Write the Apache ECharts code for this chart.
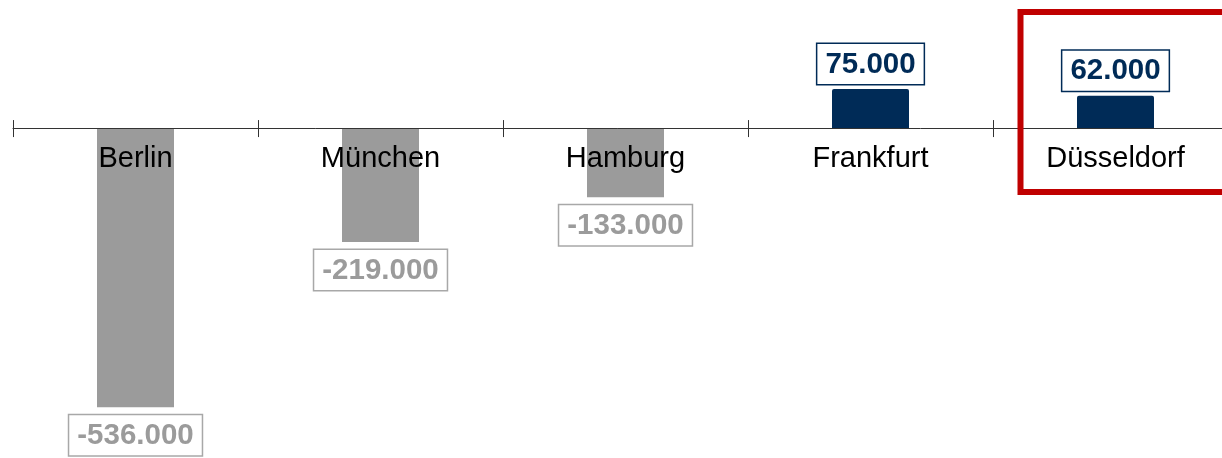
<!DOCTYPE html>
<html>
<head>
<meta charset="utf-8">
<script src="https://cdn.jsdelivr.net/npm/echarts@6/dist/echarts.min.js"></script>
<style>html,body{margin:0;padding:0;background:#fff}#c{width:1222px;height:458px}</style>
</head>
<body>
<div id="c"></div>
<script>
const categories = ['Berlin', 'München', 'Hamburg', 'Frankfurt', 'Düsseldorf'];
const values = [-536000, -219000, -133000, 75000, 62000];
const highlighted = 'Düsseldorf';

const NAVY = '#002b57';
const GREY = '#9b9b9b';
const FONT = '"Liberation Sans", Arial, sans-serif';

function fmt(v) {
  return v.toLocaleString('de-DE');
}

const Y_MIN = -600000, Y_MAX = 100000;
const GRID_TOP = 76, GRID_H = 364.5;
const zeroY = GRID_TOP + GRID_H * Y_MAX / (Y_MAX - Y_MIN);

const chart = echarts.init(document.getElementById('c'), null, { renderer: 'canvas' });

const data = values.map(v => {
  const pos = v >= 0;
  const col = pos ? NAVY : GREY;
  return {
    value: v,
    itemStyle: { color: col, borderRadius: pos ? [2, 2, 0, 0] : 0 },
    label: {
      show: true,
      position: pos ? 'top' : 'bottom',
      distance: pos ? 5 : 8,
      formatter: p => fmt(p.value),
      color: col,
      fontFamily: FONT,
      fontWeight: 'bold',
      fontSize: 29.5,
      lineHeight: 31,
      padding: [5, 8, 4, 8],
      borderColor: pos ? NAVY : '#a8a8a8',
      borderWidth: 1.5,
      backgroundColor: '#fff'
    }
  };
});

const option = {
  animation: false,
  grid: [
    { left: 13, width: 1225, top: GRID_TOP, height: GRID_H, containLabel: false, outerBoundsMode: 'none' },
    { left: 13, width: 1225, top: 0, height: zeroY, containLabel: false, outerBoundsMode: 'none' }
  ],
  xAxis: [
    {
      type: 'category',
      gridIndex: 0,
      data: categories,
      z: 10,
      boundaryGap: true,
      axisLine: { onZero: true, lineStyle: { color: '#333', width: 1 } },
      axisTick: { show: true, inside: false, length: 9, lineStyle: { color: '#333' } },
      axisLabel: { show: false },
      splitLine: { show: false }
    },
    {
      type: 'category',
      gridIndex: 1,
      data: categories,
      position: 'bottom',
      z: 10,
      boundaryGap: true,
      axisLine: { show: false, onZero: false },
      axisTick: { show: true, inside: true, length: 8, lineStyle: { color: '#333' } },
      axisLabel: { show: true, color: '#000', fontFamily: FONT, fontSize: 29, margin: 16 },
      splitLine: { show: false }
    }
  ],
  yAxis: [
    { type: 'value', gridIndex: 0, min: Y_MIN, max: Y_MAX, show: false, splitLine: { show: false } },
    { type: 'value', gridIndex: 1, min: 0, max: 1, show: false, splitLine: { show: false } }
  ],
  series: [{
    type: 'bar',
    xAxisIndex: 0,
    yAxisIndex: 0,
    data: data,
    barWidth: 77,
    z: 2
  }]
};

chart.setOption(option);

const cx = chart.convertToPixel({ xAxisIndex: 0 }, highlighted);
const left = cx - 95;
chart.setOption({
  graphic: [{
    type: 'rect',
    z: 100,
    shape: { x: left, y: 12, width: 400, height: 180 },
    style: { fill: 'none', stroke: '#c00000', lineWidth: 6 }
  }]
});
</script>
</body>
</html>
